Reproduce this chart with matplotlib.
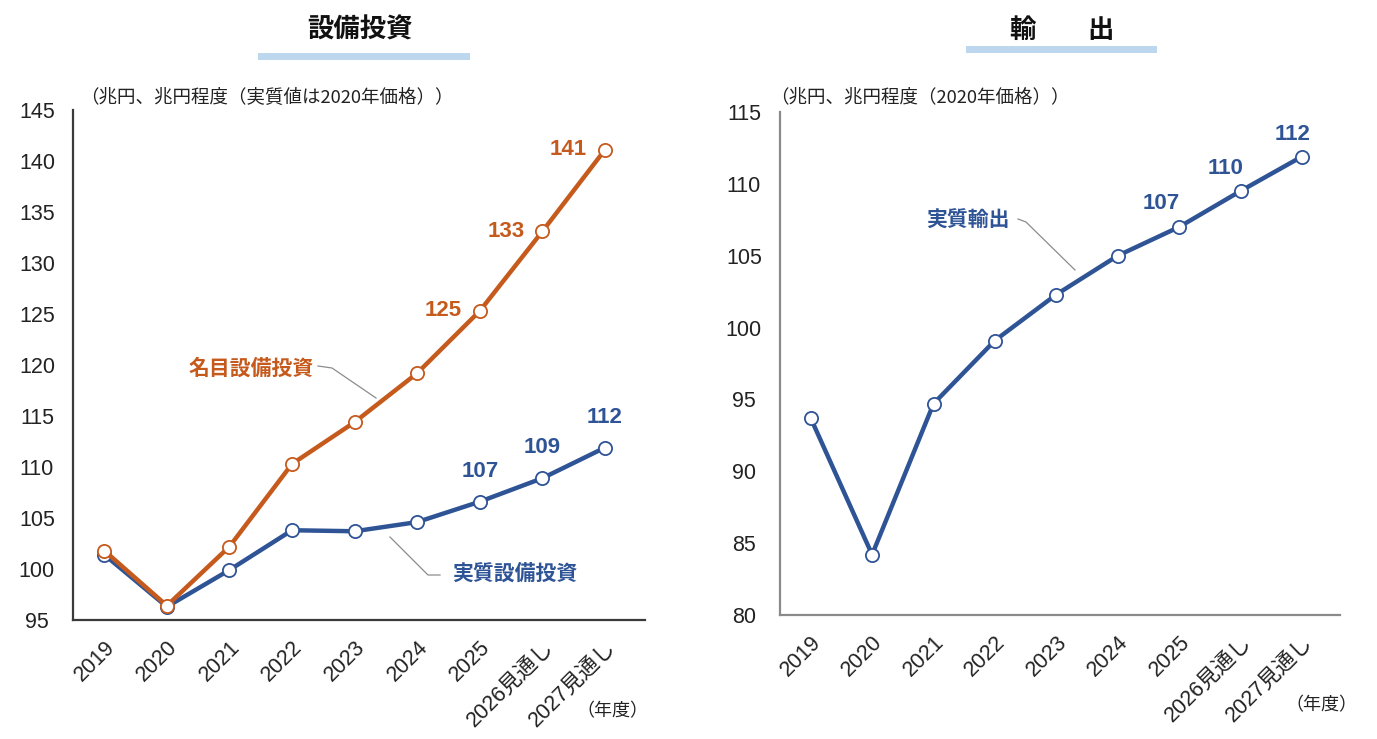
import matplotlib
matplotlib.use("Agg")
import matplotlib.pyplot as plt
from matplotlib import font_manager as fm

names = {f.name for f in fm.fontManager.ttflist}
narrow = 'Liberation Sans Narrow' if 'Liberation Sans Narrow' in names else 'Liberation Sans'
JP = 'Noto Sans CJK JP'
plt.rcParams['font.family'] = [narrow, JP, 'DejaVu Sans']

# ---- data ----
categories = ['2019', '2020', '2021', '2022', '2023', '2024', '2025', '2026見通し', '2027見通し']
nominal_capex = [101.8, 96.4, 102.2, 110.3, 114.4, 119.2, 125.3, 133.1, 141.1]
real_capex = [101.4, 96.3, 99.9, 103.8, 103.7, 104.6, 106.6, 108.9, 111.9]
real_exports = [93.7, 84.2, 94.7, 99.1, 102.3, 105.0, 107.0, 109.5, 111.9]
nominal_labels = ['125', '133', '141']
real_labels = ['107', '109', '112']
export_labels = ['107', '110', '112']
label_idx = [6, 7, 8]
left_yticks = [95, 100, 105, 110, 115, 120, 125, 130, 135, 140, 145]
right_yticks = [80, 85, 90, 95, 100, 105, 110, 115]

ORANGE = '#C55A1C'
BLUE = '#2F5496'
BAR = '#BDD7EE'
W, H = 1377, 739

fig = plt.figure(figsize=(W / 100, H / 100), dpi=100)

def fx(px):
    return px / W

def fy(py):
    return 1 - py / H

def fig_text(px, py, s, **kw):
    fig.text(fx(px), fy(py), s, **kw)

def fig_line(xs, ys, color='#8C8C8C', lw=0.9):
    fig.add_artist(plt.Line2D([fx(x) for x in xs], [fy(y) for y in ys],
                              color=color, lw=lw, transform=fig.transFigure))

axL = fig.add_axes([fx(73), fy(620), fx(645) - fx(73), fy(110) - fy(620)])
axR = fig.add_axes([fx(780), fy(615), fx(1340) - fx(780), fy(112) - fy(615)])

x = list(range(len(categories)))

def style(ax, yticks, spine_color, xmax):
    ax.set_ylim(yticks[0], yticks[-1])
    ax.set_yticks(yticks)
    ax.set_xlim(-0.5, xmax)
    ax.set_xticks(x)
    ax.set_xticklabels(categories, rotation=45, ha='right', rotation_mode='anchor',
                       fontsize=15.5, family=[narrow, JP])
    ax.tick_params(axis='both', length=0, labelsize=15.5, colors='#222222')
    ax.tick_params(axis='x', pad=12)
    ax.tick_params(axis='y', pad=26)
    for lab in ax.get_yticklabels():
        lab.set_horizontalalignment('center')
    for s in ['top', 'right']:
        ax.spines[s].set_visible(False)
    for s in ['left', 'bottom']:
        ax.spines[s].set_color(spine_color)
        ax.spines[s].set_linewidth(1.6)

mk = dict(marker='o', markersize=9.5, markerfacecolor='white', markeredgewidth=1.3, lw=3.2)

# ---- left chart ----
axL.plot(x, real_capex, color=BLUE, markeredgecolor=BLUE, zorder=3, **mk)
axL.plot(x, nominal_capex, color=ORANGE, markeredgecolor=ORANGE, zorder=4, **mk)
style(axL, left_yticks, '#3A3A3A', 8.64)
for i, s in zip(label_idx, nominal_labels):
    axL.annotate(s, (i, nominal_capex[i]), xytext=(-13, 0), textcoords='offset points',
                 ha='right', va='center', color=ORANGE, fontsize=16, fontweight='bold')
for i, s in zip(label_idx, real_labels):
    axL.annotate(s, (i, real_capex[i]), xytext=(0, 22), textcoords='offset points',
                 ha='center', va='center', color=BLUE, fontsize=16, fontweight='bold')

# ---- right chart ----
axR.plot(x, real_exports, color=BLUE, markeredgecolor=BLUE, zorder=3, **mk)
style(axR, right_yticks, '#8A8A8A', 8.62)
offsets = [(-13, 17), (-11, 16), (-7, 16)]
for (i, s), off in zip(zip(label_idx, export_labels), offsets):
    axR.annotate(s, (i, real_exports[i]), xytext=off, textcoords='offset points',
                 ha='center', va='center', color=BLUE, fontsize=16, fontweight='bold')

# ---- series names & leader lines ----
fig_text(251, 368, '名目設備投資', ha='center', va='center', color=ORANGE,
         fontsize=15, fontweight='bold', family=JP)
fig_line([318, 332, 376], [366, 368, 398])
fig_text(515, 573, '実質設備投資', ha='center', va='center', color=BLUE,
         fontsize=15, fontweight='bold', family=JP)
fig_line([390, 428, 440], [537, 575, 575])
fig_text(968, 220, '実質輸出', ha='center', va='center', color=BLUE,
         fontsize=15, fontweight='bold', family=JP)
fig_line([1018, 1026, 1075], [219, 222, 270])

# ---- titles ----
fig_text(360, 30, '設備投資', ha='center', va='center', fontsize=19,
         fontweight='bold', family=JP, color='#111111')
fig.add_artist(plt.Rectangle((fx(258), fy(60)), fx(470) - fx(258), fy(53) - fy(60),
                             color=BAR, transform=fig.transFigure, lw=0))
fig_text(1022, 30, '輸', ha='center', va='center', fontsize=19,
         fontweight='bold', family=JP, color='#111111')
fig_text(1101, 30, '出', ha='center', va='center', fontsize=19,
         fontweight='bold', family=JP, color='#111111')
fig.add_artist(plt.Rectangle((fx(966), fy(53)), fx(1157) - fx(966), fy(46) - fy(53),
                             color=BAR, transform=fig.transFigure, lw=0))

# ---- unit notes ----
fig_text(80, 98, '（兆円、兆円程度（実質値は2020年価格））', ha='left', va='center',
         fontsize=13.3, family=JP, color='#222222')
fig_text(770, 97, '（兆円、兆円程度（2020年価格））', ha='left', va='center',
         fontsize=13.3, family=JP, color='#222222')
fig_text(612, 711, '（年度）', ha='center', va='center', fontsize=13, family=JP, color='#222222')
fig_text(1321, 705, '（年度）', ha='center', va='center', fontsize=13, family=JP, color='#222222')

fig.savefig('out.png', dpi=100, facecolor='white')
